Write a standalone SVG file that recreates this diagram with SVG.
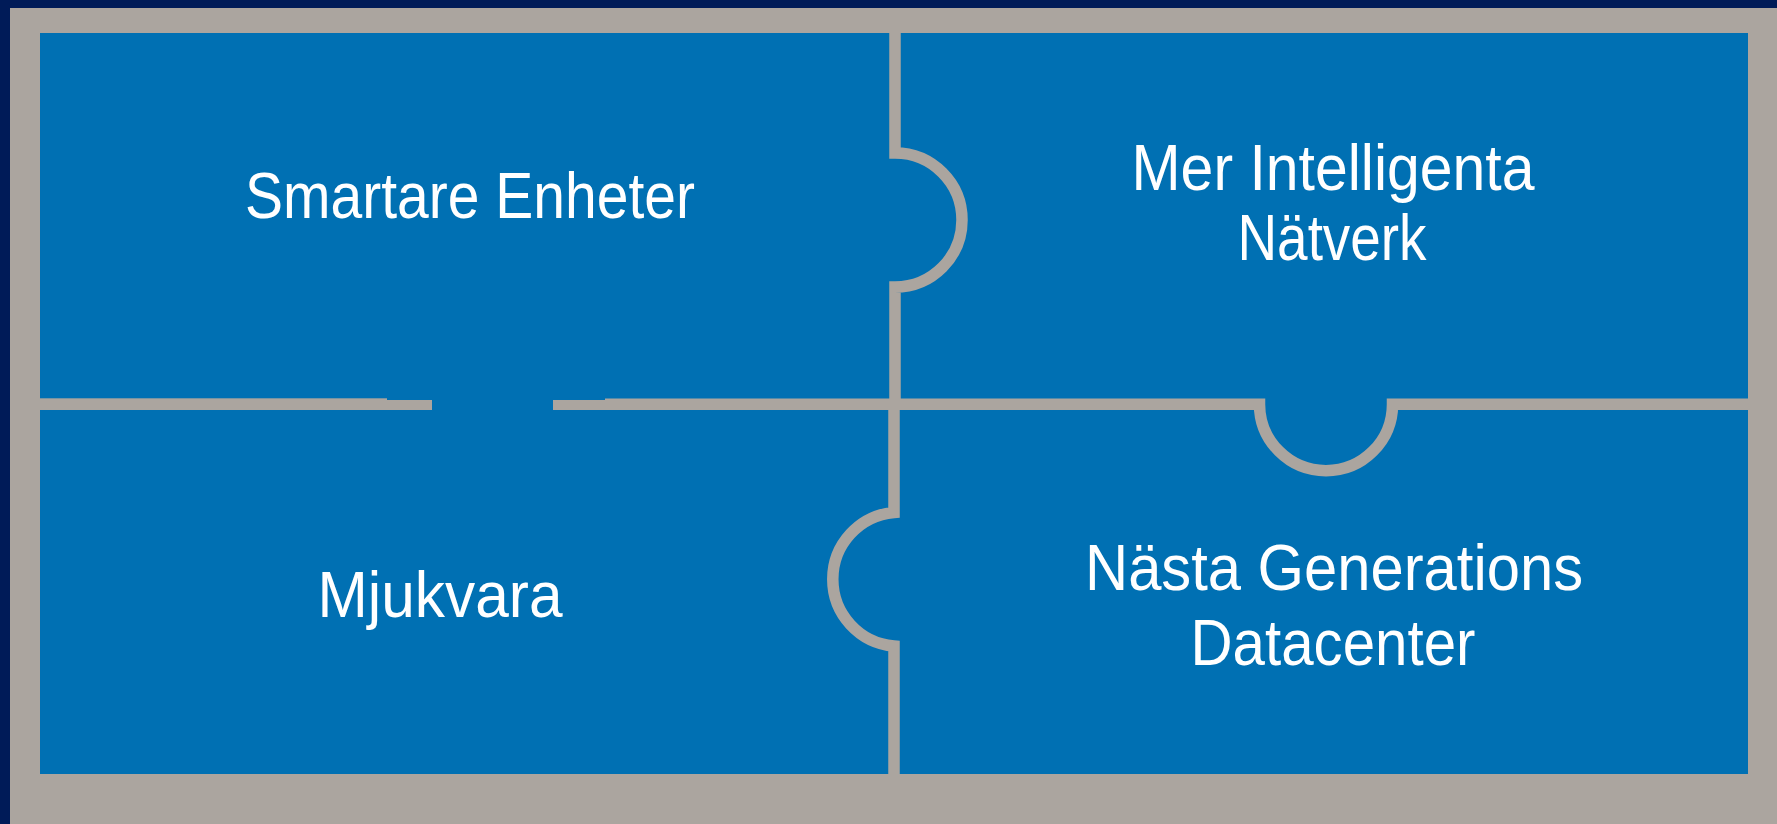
<svg xmlns="http://www.w3.org/2000/svg" width="1777" height="824" viewBox="0 0 1777 824">
  <style>
    .lbl { font-family: "Liberation Sans", Arial, sans-serif; font-size: 64px; fill: #ffffff; text-anchor: middle; }
    .seam { fill: none; stroke: #aba59f; stroke-width: 11.5; stroke-linejoin: miter; stroke-linecap: butt; }
    .seamfill { fill: #aba59f; }
  </style>
  <rect x="0" y="0" width="1777" height="824" fill="#001b58"/>
  <rect x="10" y="8" width="1767" height="816" fill="#aba59f"/>
  <rect x="40" y="33" width="1708" height="741" fill="#0070b3"/>

  <g id="node-smartare-enheter">
    <text class="lbl" x="470" y="218" textLength="450" lengthAdjust="spacingAndGlyphs">Smartare Enheter</text>
  </g>
  <g id="node-mer-intelligenta-natverk">
    <text class="lbl" x="1333" y="190" textLength="403" lengthAdjust="spacingAndGlyphs">Mer Intelligenta</text>
    <text class="lbl" x="1332" y="260" textLength="189" lengthAdjust="spacingAndGlyphs">Nätverk</text>
  </g>
  <g id="node-mjukvara">
    <text class="lbl" x="440" y="617" textLength="245" lengthAdjust="spacingAndGlyphs">Mjukvara</text>
  </g>
  <g id="node-nasta-generations-datacenter">
    <text class="lbl" x="1334" y="590" textLength="498" lengthAdjust="spacingAndGlyphs">Nästa Generations</text>
    <text class="lbl" x="1333" y="665" textLength="285" lengthAdjust="spacingAndGlyphs">Datacenter</text>
  </g>

  <g id="connectors">
    <path class="seam" d="M895,33 V153 A67,67 0 0 1 895,287 V404"/>
    <path class="seam" d="M894,404 V512.5 A67,67 0 0 0 894,646 V774"/>
    <rect class="seamfill" x="40" y="398.3" width="347" height="11.7"/>
    <rect class="seamfill" x="387" y="400" width="45" height="10"/>
    <rect class="seamfill" x="553" y="400" width="52" height="10"/>
    <path class="seam" d="M605,404.15 H1259.5 A66.5,66.5 0 0 0 1392.5,404.15 H1748"/>
  </g>
</svg>
